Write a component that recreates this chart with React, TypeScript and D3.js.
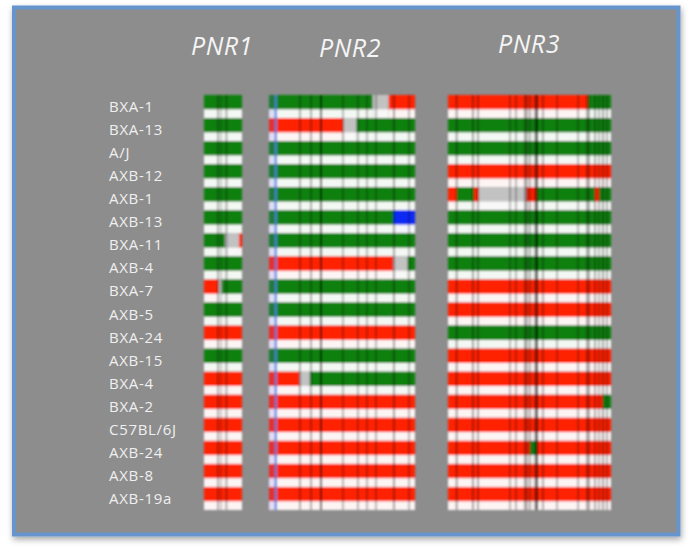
import React from "react";
import * as d3 from "d3";

type Seg = [number, number, string];

const strains = [
  "BXA-1", "BXA-13", "A/J", "AXB-12", "AXB-1", "AXB-13", "BXA-11", "AXB-4", "BXA-7",
  "AXB-5", "BXA-24", "AXB-15", "BXA-4", "BXA-2", "C57BL/6J", "AXB-24", "AXB-8", "AXB-19a",
];

const panelNames = ["PNR1", "PNR2", "PNR3"];

const A: Seg[] = [[0, 100, "A"]];
const B: Seg[] = [[0, 100, "B"]];

const pnr1Segments: Seg[][] = [
  A, A, A, A, A, A,
  [[0, 55, "A"], [55, 92, "N"], [92, 100, "B"]],
  A,
  [[0, 39, "B"], [39, 47, "N"], [47, 100, "A"]],
  A, B, A, B, B, B, B, B, B,
];

const pnr2Segments: Seg[][] = [
  [[0, 71, "A"], [71, 82, "N"], [82, 100, "B"]],
  [[0, 51, "B"], [51, 60, "N"], [60, 100, "A"]],
  A, A, A,
  [[0, 85, "A"], [85, 100, "X"]],
  A,
  [[0, 85, "B"], [85, 95, "N"], [95, 100, "A"]],
  A, A, B, A,
  [[0, 21, "B"], [21, 28, "N"], [28, 100, "A"]],
  B, B, B, B, B,
];

const pnr3Segments: Seg[][] = [
  [[0, 86, "B"], [86, 100, "A"]],
  A, A, B,
  [[0, 5.5, "B"], [5.5, 16, "A"], [16, 19, "B"], [19, 48, "N"], [48, 55, "B"], [55, 90, "A"], [90, 93, "B"], [93, 100, "A"]],
  A, A, A, B, B, A, B, B,
  [[0, 95, "B"], [95, 100, "A"]],
  B,
  [[0, 50.3, "B"], [50.3, 54.6, "A"], [54.6, 100, "B"]],
  B, B,
];

// vertical marker lines: [position, darkness]
const pnr1Lines: [number, number][] = [[37, 0.35], [45, 0.2], [59, 0.35]];
const pnr2Lines: [number, number][] = [
  [21.2, 0.35], [28.8, 0.35], [35.6, 0.7], [50.7, 0.3], [60.9, 0.3], [67.1, 0.3], [73.3, 0.3], [85.6, 0.4], [95.9, 0.3],
];
const pnr3Lines: [number, number][] = [
  [5.3, 0.4], [15.3, 0.4], [18.4, 0.35], [38, 0.3], [41.7, 0.3], [47.2, 0.4], [48.5, 0.3], [50.3, 0.35],
  [53.4, 0.35], [54.6, 0.85], [58.3, 0.35], [66.9, 0.3], [79.8, 0.3], [85.3, 0.35], [86.5, 0.35],
  [90.2, 0.35], [92.6, 0.3], [95.1, 0.4], [97.5, 0.35],
];

const segmentsByPanel = [pnr1Segments, pnr2Segments, pnr3Segments];
const linesByPanel = [pnr1Lines, pnr2Lines, pnr3Lines];

const alleleColor: Record<string, string> = { A: "#0b800b", B: "#ff2300", N: "#c2c2c2", X: "#0a2af5" };
const stripeColor: Record<string, string> = { A: "#f4f8f4", B: "#fdf4f4", N: "#f8f8f8", X: "#f4f4fc" };

const W = 693;
const H = 553;
const panelX: [number, number][] = [[204, 242], [269, 415], [448, 611]];
const titleX = [222, 350, 529];
const titleY = [55, 57, 53];
const top = 95;
const bottom = 510;

export default function App() {
  const y = d3.scaleBand<string>().domain(strains).range([top, bottom]).paddingInner(0);
  const bh = y.bandwidth();
  const colorH = bh * 0.62;

  return (
    <svg width={W} height={H} style={{ position: "absolute", left: 0, top: 0 }}>
      <defs>
        <filter id="shadow" x="-5%" y="-5%" width="110%" height="115%">
          <feDropShadow dx="1" dy="3" stdDeviation="3" floodColor="#000" floodOpacity="0.35" />
        </filter>
        <filter id="soft" x="-5%" y="-2%" width="110%" height="104%">
          <feGaussianBlur stdDeviation="0.9" />
        </filter>
      </defs>
      <rect x={0} y={0} width={W} height={H} fill="#ffffff" />
      <rect x={14} y={7.5} width={664.5} height={527} fill="#8d8d8d" stroke="#6694cc" strokeWidth={4} filter="url(#shadow)" />

      {panelNames.map((name, i) => (
        <text key={name} x={titleX[i]} y={titleY[i]} textAnchor="middle" fill="#f5f5f5"
          fontFamily="'Open Sans', sans-serif" fontStyle="italic" fontSize={25} letterSpacing={0.6}>
          {name}
        </text>
      ))}

      {strains.map((s) => (
        <text key={s} x={109} y={(y(s) as number) + 17} fill="#f0f0f0"
          fontFamily="'Open Sans', sans-serif" fontSize={15} letterSpacing={0.7}>
          {s}
        </text>
      ))}

      {segmentsByPanel.map((rows, pi) => {
        const x = d3.scaleLinear().domain([0, 100]).range(panelX[pi]);
        return (
          <g key={pi} filter="url(#soft)">
            {rows.map((segs, ri) => {
              const y0 = y(strains[ri]) as number;
              return (
                <g key={ri}>
                  {segs.map(([a, b, al], si) => (
                    <g key={si}>
                      <rect x={x(a)} y={y0} width={x(b) - x(a)} height={colorH + 0.5} fill={alleleColor[al]} />
                      <rect x={x(a)} y={y0 + colorH} width={x(b) - x(a)} height={bh - colorH} fill={stripeColor[al]} />
                    </g>
                  ))}
                </g>
              );
            })}
            {linesByPanel[pi].map(([p, o], li) => (
              <rect key={li} x={x(p) - 0.9} y={top} width={1.8} height={bottom - top} fill="#000" opacity={o} />
            ))}
            {pi === 1 && (
              <>
                <rect x={x(0)} y={top} width={x(3.4) - x(0)} height={bottom - top} fill="#7a6aff" opacity={0.18} />
                <rect x={x(3.8)} y={top} width={2.4} height={bottom - top} fill="#4f7de0" opacity={0.9} />
              </>
            )}
          </g>
        );
      })}
    </svg>
  );
}
